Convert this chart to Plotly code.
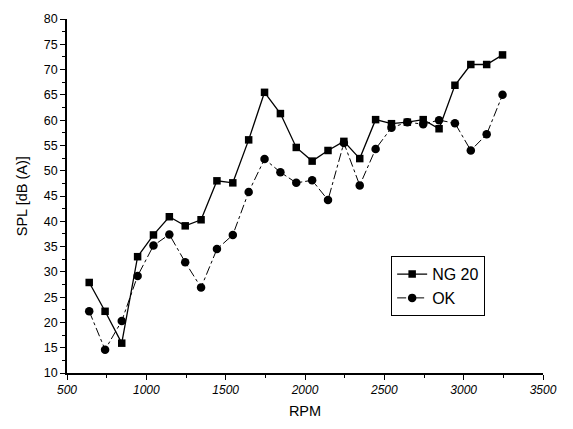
import plotly.graph_objects as go

# Engine speed steps (RPM)
rpm = [640, 740, 845, 945, 1045, 1145, 1245, 1345, 1445, 1545, 1645, 1745, 1845,
       1945, 2045, 2145, 2245, 2345, 2445, 2545, 2645, 2745, 2845, 2945, 3045,
       3145, 3245]

# Sound pressure level, dB(A)
spl_ng20 = [27.9, 22.2, 15.9, 33.0, 37.3, 40.9, 39.1, 40.3, 48.0, 47.6, 56.1, 65.5,
            61.3, 54.6, 51.9, 54.0, 55.8, 52.4, 60.1, 59.3, 59.6, 60.1, 58.3, 66.9,
            71.0, 71.0, 72.9]
spl_ok = [22.2, 14.6, 20.3, 29.2, 35.2, 37.4, 31.9, 26.9, 34.5, 37.3, 45.8, 52.3,
          49.7, 47.6, 48.1, 44.2, 55.5, 47.1, 54.3, 58.5, 59.6, 59.2, 60.0, 59.4,
          54.0, 57.2, 65.0]

x_ticks = [500, 1000, 1500, 2000, 2500, 3000, 3500]
y_ticks = [10, 15, 20, 25, 30, 35, 40, 45, 50, 55, 60, 65, 70, 75, 80]

FONT = "Liberation Sans, Arial, sans-serif"

fig = go.Figure()
fig.add_trace(go.Scatter(
    x=rpm, y=spl_ng20, name="NG 20", mode="lines+markers",
    line=dict(color="black", width=1.3, dash="solid"),
    marker=dict(symbol="square", size=7.5, color="black"),
))
fig.add_trace(go.Scatter(
    x=rpm, y=spl_ok, name="OK", mode="lines+markers",
    line=dict(color="black", width=1.0, dash="dashdot"),
    marker=dict(symbol="circle", size=8.5, color="black"),
))

fig.update_layout(
    width=573, height=429,
    margin=dict(l=67, r=30, t=16, b=55),
    paper_bgcolor="white", plot_bgcolor="white",
    font=dict(family=FONT, color="black"),
    showlegend=True,
    legend=dict(
        x=0.681, y=0.33, xanchor="left", yanchor="top",
        bgcolor="white", bordercolor="black", borderwidth=1,
        font=dict(size=16, family=FONT),
        tracegroupgap=0, itemwidth=30,
    ),
    xaxis=dict(
        range=[500, 3500], tickvals=x_ticks,
        showline=True, linecolor="black", linewidth=1.8,
        ticks="outside", ticklen=5, tickwidth=1.3, tickcolor="black",
        minor=dict(dtick=250, ticks="outside", ticklen=3, tickcolor="black"),
        showgrid=False, zeroline=False,
        tickfont=dict(size=12, family=FONT, style="italic"),
        title=dict(text="RPM", font=dict(size=14.5, family=FONT), standoff=10),
    ),
    yaxis=dict(
        range=[10, 80], tickvals=y_ticks,
        showline=True, linecolor="black", linewidth=1.8,
        ticks="outside", ticklen=5, tickwidth=1.3, tickcolor="black",
        minor=dict(dtick=2.5, ticks="outside", ticklen=3, tickcolor="black"),
        showgrid=False, zeroline=False,
        tickfont=dict(size=12.5, family=FONT),
    ),
    annotations=[dict(
        text="SPL [dB (A)]", textangle=-90,
        xref="paper", yref="paper", x=-0.094, y=0.5,
        xanchor="center", yanchor="middle", showarrow=False,
        font=dict(size=14.5, family=FONT),
    )],
)

fig.write_html("out.html")
